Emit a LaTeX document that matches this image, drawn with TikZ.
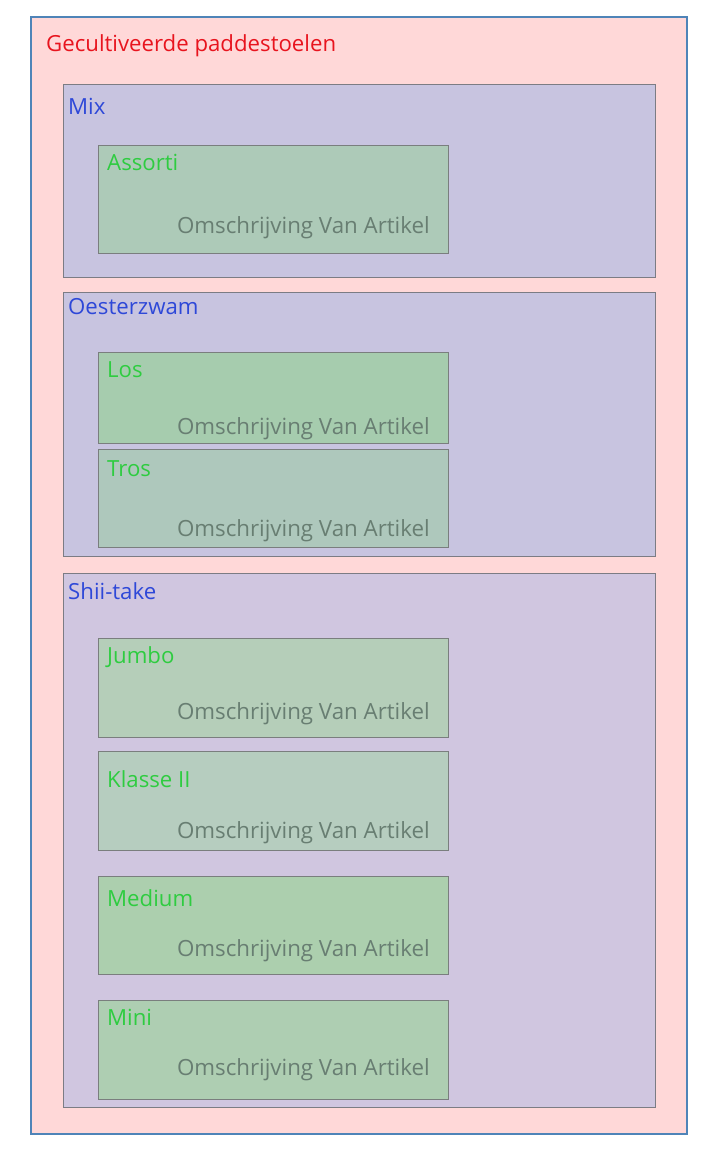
\documentclass[tikz,border=0pt]{standalone}
\usepackage{fontspec}
\setmainfont{Open Sans}
\definecolor{outerfill}{HTML}{FFD8D8}
\definecolor{outerdraw}{HTML}{4F84B8}
\definecolor{grpfillA}{HTML}{C8C4E0}
\definecolor{grpfillB}{HTML}{D0C6E0}
\definecolor{grpdraw}{HTML}{7C7C84}
\definecolor{itmA}{HTML}{ADCAB8}
\definecolor{itmLos}{HTML}{A6CCAE}
\definecolor{itmTros}{HTML}{AEC8BC}
\definecolor{itmJumbo}{HTML}{B5CEB9}
\definecolor{itmKlasse}{HTML}{B6CDBF}
\definecolor{itmMedium}{HTML}{ACCFAE}
\definecolor{itmMini}{HTML}{AECEB2}
\definecolor{itmdraw}{HTML}{7A7E7E}
\definecolor{titlered}{HTML}{E8141E}
\definecolor{grpblue}{HTML}{2E48D8}
\definecolor{itmgreen}{HTML}{2ECC40}
\definecolor{descgray}{HTML}{687E72}
\tikzset{
  outerbox/.style={draw=outerdraw, fill=outerfill, line width=1.3pt},
  grpbox/.style={draw=grpdraw, line width=1pt},
  itmbox/.style={draw=itmdraw, line width=1pt},
  ttl/.style={anchor=base west, inner sep=0pt, text=titlered, font=\fontsize{22.2}{26}\selectfont},
  grplbl/.style={anchor=base west, inner sep=0pt, text=grpblue, font=\fontsize{22.2}{26}\selectfont},
  itmlbl/.style={anchor=base west, inner sep=0pt, text=itmgreen, font=\fontsize{22.2}{26}\selectfont},
  desc/.style={anchor=base east, inner sep=0pt, text=descgray, font=\fontsize{22.3}{26}\selectfont},
}
\begin{document}
\begin{tikzpicture}[x=1pt,y=-1pt]
\useasboundingbox (0,0) rectangle (708,1165);
% outer
\draw[outerbox] (31,17) rectangle (687,1134);
\node[ttl] (title) at (46,51) {Gecultiveerde paddestoelen};
% Mix
\draw[grpbox, fill=grpfillA] (63,84) rectangle (655,277);
\node[grplbl] (mix) at (68,114) {Mix};
\draw[itmbox, fill=itmA] (98,145) rectangle (448,253);
\node[itmlbl] (assorti) at (107,170) {Assorti};
\node[desc] (d1) at (430,233) {Omschrijving Van Artikel};
% Oesterzwam
\draw[grpbox, fill=grpfillA] (63,292) rectangle (655,556);
\node[grplbl] (oester) at (68,314) {Oesterzwam};
\draw[itmbox, fill=itmLos] (98,352) rectangle (448,443);
\node[itmlbl] (los) at (107,377) {Los};
\node[desc] (d2) at (430,434) {Omschrijving Van Artikel};
\draw[itmbox, fill=itmTros] (98,449) rectangle (448,547);
\node[itmlbl] (tros) at (107,476) {Tros};
\node[desc] (d3) at (430,536) {Omschrijving Van Artikel};
% Shii-take
\draw[grpbox, fill=grpfillB] (63,573) rectangle (655,1107);
\node[grplbl] (shii) at (68,599) {Shii-take};
\draw[itmbox, fill=itmJumbo] (98,638) rectangle (448,737);
\node[itmlbl] (jumbo) at (107,663) {Jumbo};
\node[desc] (d4) at (430,719) {Omschrijving Van Artikel};
\draw[itmbox, fill=itmKlasse] (98,751) rectangle (448,850);
\node[itmlbl] (klasse) at (107,787) {Klasse II};
\node[desc] (d5) at (430,838) {Omschrijving Van Artikel};
\draw[itmbox, fill=itmMedium] (98,876) rectangle (448,974);
\node[itmlbl] (medium) at (107,906) {Medium};
\node[desc] (d6) at (430,956) {Omschrijving Van Artikel};
\draw[itmbox, fill=itmMini] (98,1000) rectangle (448,1099);
\node[itmlbl] (mini) at (107,1025) {Mini};
\node[desc] (d7) at (430,1075) {Omschrijving Van Artikel};
\end{tikzpicture}
\end{document}
